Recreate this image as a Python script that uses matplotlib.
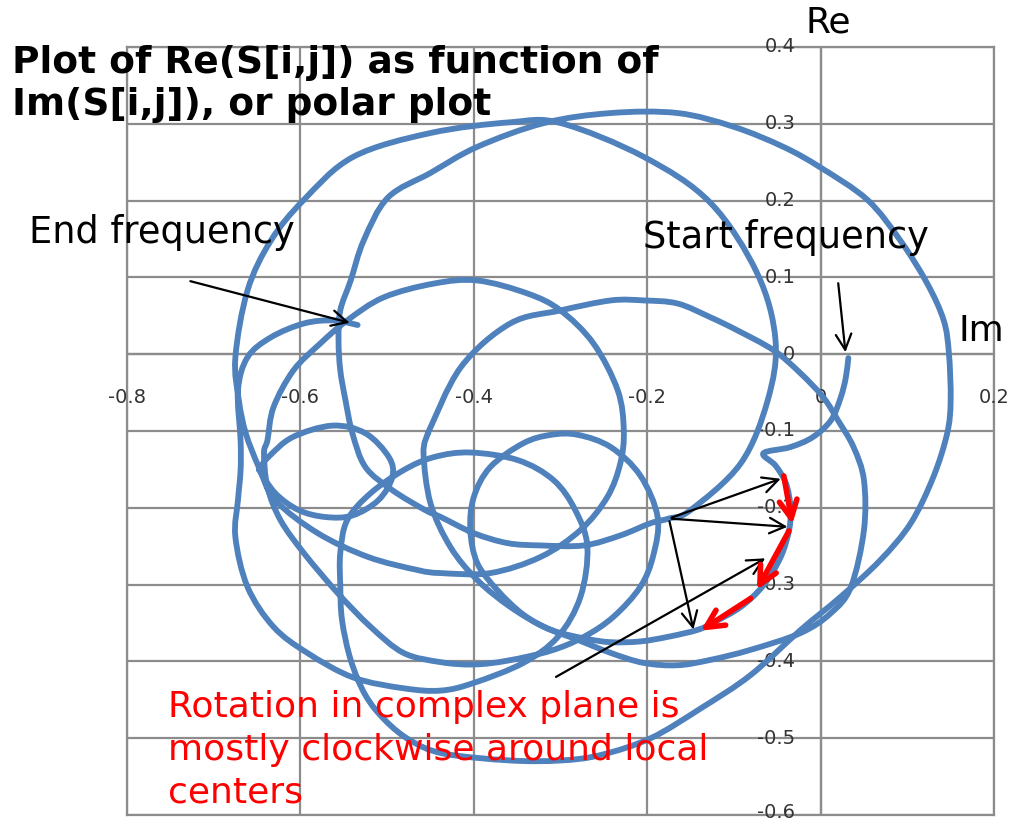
import matplotlib
matplotlib.use("Agg")
import matplotlib.pyplot as plt
from matplotlib.path import Path
from matplotlib.patches import PathPatch
import numpy as np

# points as (Im, Re)
seg_start = [(0.032, -0.005), (0.029, -0.031), (0.023, -0.057), (0.012, -0.086), (-0.009, -0.108),
             (-0.035, -0.121), (-0.066, -0.129), (-0.052, -0.145), (-0.040, -0.168), (-0.035, -0.197),
             (-0.036, -0.227), (-0.046, -0.264), (-0.066, -0.301), (-0.092, -0.329), (-0.123, -0.349),
             (-0.142, -0.359), (-0.176, -0.368), (-0.208, -0.374), (-0.242, -0.375), (-0.273, -0.370)]
loop_p = [(-0.311, -0.359), (-0.343, -0.339), (-0.373, -0.307), (-0.396, -0.272), (-0.404, -0.229),
          (-0.400, -0.186), (-0.381, -0.147), (-0.343, -0.116), (-0.311, -0.105), (-0.280, -0.105),
          (-0.242, -0.121), (-0.208, -0.158), (-0.188, -0.212), (-0.193, -0.262), (-0.208, -0.303),
          (-0.239, -0.342), (-0.273, -0.368), (-0.311, -0.386), (-0.361, -0.399), (-0.400, -0.404),
          (-0.438, -0.401)]
seg_cross = [(-0.481, -0.389), (-0.519, -0.355), (-0.557, -0.311), (-0.596, -0.259), (-0.623, -0.216),
             (-0.638, -0.173), (-0.642, -0.129), (-0.638, -0.112), (-0.631, -0.069), (-0.608, -0.021),
             (-0.577, 0.014), (-0.546, 0.044)]
loop_a = [(-0.504, 0.074), (-0.446, 0.092), (-0.396, 0.096), (-0.338, 0.079), (-0.300, 0.057),
          (-0.262, 0.014), (-0.234, -0.047), (-0.227, -0.099), (-0.231, -0.142), (-0.246, -0.186),
          (-0.277, -0.229), (-0.323, -0.264), (-0.381, -0.285), (-0.438, -0.285), (-0.465, -0.281),
          (-0.522, -0.264), (-0.580, -0.233), (-0.629, -0.190), (-0.648, -0.147), (-0.663, -0.103),
          (-0.671, -0.060)]
loop_l2 = [(-0.675, -0.004), (-0.661, 0.083), (-0.634, 0.148), (-0.596, 0.201), (-0.539, 0.257),
           (-0.450, 0.288), (-0.358, 0.302), (-0.300, 0.301), (-0.204, 0.257), (-0.127, 0.197),
           (-0.073, 0.105), (-0.052, 0.018), (-0.061, -0.060), (-0.092, -0.142), (-0.150, -0.203),
           (-0.175, -0.214), (-0.196, -0.220), (-0.231, -0.236), (-0.273, -0.249), (-0.323, -0.249),
           (-0.361, -0.246), (-0.400, -0.233), (-0.438, -0.212), (-0.456, -0.203), (-0.494, -0.177),
           (-0.525, -0.147), (-0.540, -0.103), (-0.548, -0.060), (-0.554, -0.021), (-0.556, 0.018),
           (-0.554, 0.057), (-0.542, 0.096)]
loop_l1 = [(-0.527, 0.148), (-0.499, 0.204), (-0.450, 0.236), (-0.396, 0.270), (-0.319, 0.301),
           (-0.242, 0.314), (-0.165, 0.314), (-0.100, 0.296), (-0.043, 0.270), (0.000, 0.243),
           (0.054, 0.201), (0.092, 0.148), (0.123, 0.092), (0.142, 0.044), (0.148, 0.001),
           (0.150, -0.060), (0.146, -0.103), (0.130, -0.160), (0.104, -0.220), (0.069, -0.268),
           (0.023, -0.316), (-0.023, -0.359), (-0.081, -0.418), (-0.138, -0.461), (-0.196, -0.500),
           (-0.254, -0.522), (-0.300, -0.529), (-0.358, -0.529), (-0.435, -0.520), (-0.473, -0.503),
           (-0.502, -0.477), (-0.525, -0.444), (-0.542, -0.398), (-0.552, -0.346), (-0.554, -0.301)]
loop_c = [(-0.554, -0.259), (-0.546, -0.216), (-0.519, -0.181), (-0.481, -0.151), (-0.446, -0.134),
          (-0.404, -0.128), (-0.349, -0.138), (-0.308, -0.164), (-0.283, -0.203), (-0.269, -0.251),
          (-0.277, -0.316), (-0.303, -0.368), (-0.343, -0.402), (-0.400, -0.428), (-0.438, -0.438),
          (-0.481, -0.435), (-0.539, -0.421), (-0.592, -0.389), (-0.631, -0.355), (-0.661, -0.303),
          (-0.675, -0.238), (-0.672, -0.190), (-0.669, -0.151), (-0.669, -0.112)]
seg_end = [(-0.672, -0.047), (-0.661, -0.004), (-0.634, 0.022), (-0.596, 0.040), (-0.562, 0.044),
           (-0.534, 0.038)]
loop_y = [(-0.453, -0.103), (-0.415, -0.017), (-0.358, 0.040), (-0.300, 0.057), (-0.242, 0.070),
          (-0.204, 0.070), (-0.165, 0.066), (-0.127, 0.048), (-0.096, 0.031), (-0.054, 0.005),
          (-0.023, -0.025), (0.003, -0.056), (0.020, -0.086), (0.038, -0.121), (0.050, -0.164),
          (0.050, -0.229), (0.035, -0.303), (0.012, -0.337), (-0.023, -0.363), (-0.081, -0.385),
          (-0.127, -0.398), (-0.165, -0.405), (-0.204, -0.402), (-0.242, -0.389), (-0.280, -0.372),
          (-0.319, -0.355), (-0.358, -0.329), (-0.396, -0.294), (-0.427, -0.251), (-0.450, -0.194),
          (-0.458, -0.129), (-0.453, -0.103)]
loop_s = [(-0.648, -0.150), (-0.637, -0.134), (-0.609, -0.108), (-0.563, -0.093), (-0.525, -0.103),
          (-0.498, -0.134), (-0.494, -0.160), (-0.510, -0.190), (-0.540, -0.210), (-0.571, -0.212),
          (-0.602, -0.203), (-0.629, -0.181), (-0.648, -0.150)]

x_ticks = [-0.8, -0.6, -0.4, -0.2, 0.0, 0.2]
x_labels = ["-0.8", "-0.6", "-0.4", "-0.2", "0", "0.2"]
y_ticks = [0.4, 0.3, 0.2, 0.1, 0.0, -0.1, -0.2, -0.3, -0.4, -0.5, -0.6]
y_labels = ["0.4", "0.3", "0.2", "0.1", "0", "-0.1", "-0.2", "-0.3", "-0.4", "-0.5", "-0.6"]


def smooth_path(pts):
    # smoothed-line style (like a spreadsheet "smoothed line"): cubic bezier through the points
    p = np.array(pts, dtype=float)
    verts = [p[0]]
    codes = [Path.MOVETO]
    for i in range(len(p) - 1):
        p0 = p[i - 1] if i > 0 else p[i]
        p3 = p[i + 2] if i + 2 < len(p) else p[i + 1]
        c1 = p[i] + (p[i + 1] - p0) / 6.0
        c2 = p[i + 1] - (p3 - p[i]) / 6.0
        verts += [c1, c2, p[i + 1]]
        codes += [Path.CURVE4] * 3
    return Path(verts, codes)


W, H = 1010, 822
fig = plt.figure(figsize=(W / 100, H / 100), dpi=100)
ax = fig.add_axes([127 / W, 1 - 815 / H, 867 / W, 768 / H])
ax.set_xlim(-0.8, 0.2)
ax.set_ylim(-0.6, 0.4)

grid_col = "#8c8c8c"
ax.set_xticks(x_ticks)
ax.set_yticks(y_ticks)
ax.tick_params(length=0, labelbottom=False, labelleft=False)
ax.grid(True, color=grid_col, lw=1.6)
ax.set_axisbelow(True)
for sp in ax.spines.values():
    sp.set_color(grid_col)
    sp.set_linewidth(1.6)
ax.axhline(0, color=grid_col, lw=1.6, zorder=1)
ax.axvline(0, color=grid_col, lw=1.6, zorder=1)

for xv, lab in zip(x_ticks, x_labels):
    ax.text(xv, -0.057, lab, ha="center", va="center", fontsize=14, color="#333333")
for yv, lab in zip(y_ticks, y_labels):
    ax.text(-0.029, max(yv, -0.597), lab, ha="right", va="center", fontsize=14, color="#333333")

# the trace
path = seg_start + loop_p + seg_cross + loop_a + loop_l2 + loop_l1 + loop_c + seg_end
blue = "#4f81bd"
for seg in [path, loop_y, loop_s]:
    ax.add_patch(PathPatch(smooth_path(seg), fill=False, edgecolor=blue, lw=4.2,
                           joinstyle="round", capstyle="round", zorder=3))

# annotations
black = dict(arrowstyle="->", color="black", lw=1.6, mutation_scale=28)
ax.annotate("", xy=(-0.540, 0.040), xytext=(-0.730, 0.096), arrowprops=black, zorder=5)
ax.annotate("", xy=(0.029, -0.001), xytext=(0.020, 0.096), arrowprops=black, zorder=5)
origin = (-0.175, -0.214)
for tgt in [(-0.043, -0.161), (-0.035, -0.225), (-0.146, -0.362)]:
    ax.annotate("", xy=tgt, xytext=origin, arrowprops=black, zorder=5)
ax.annotate("", xy=(-0.061, -0.264), xytext=(-0.308, -0.422), arrowprops=black, zorder=5)

red = dict(arrowstyle="->", color="#ff0000", lw=4, mutation_scale=32)
ax.annotate("", xy=(-0.032, -0.225), xytext=(-0.043, -0.155), arrowprops=red, zorder=6)
ax.annotate("", xy=(-0.075, -0.310), xytext=(-0.035, -0.227), arrowprops=red, zorder=6)
ax.annotate("", xy=(-0.141, -0.362), xytext=(-0.078, -0.316), arrowprops=red, zorder=6)

ax.text(-0.913, 0.159, "End frequency", fontsize=26.5, ha="left", va="center", clip_on=False, zorder=7)
ax.text(-0.205, 0.152, "Start frequency", fontsize=26.5, ha="left", va="center", clip_on=False, zorder=7)
ax.text(-0.017, 0.432, "Re", fontsize=26, ha="left", va="center", clip_on=False, zorder=7)
ax.text(0.159, 0.030, "Im", fontsize=26, ha="left", va="center", clip_on=False, zorder=7)
ax.text(-0.753, -0.437, "Rotation in complex plane is\nmostly clockwise around local\ncenters",
        fontsize=26, color="#ff0000", ha="left", va="top", linespacing=1.33, clip_on=False, zorder=7)

fig.text(12 / W, 1 - 45 / H, "Plot of Re(S[i,j]) as function of\nIm(S[i,j]), or polar plot",
         fontsize=27, fontweight="bold", ha="left", va="top", linespacing=1.22)

fig.savefig("out.png", dpi=100)
